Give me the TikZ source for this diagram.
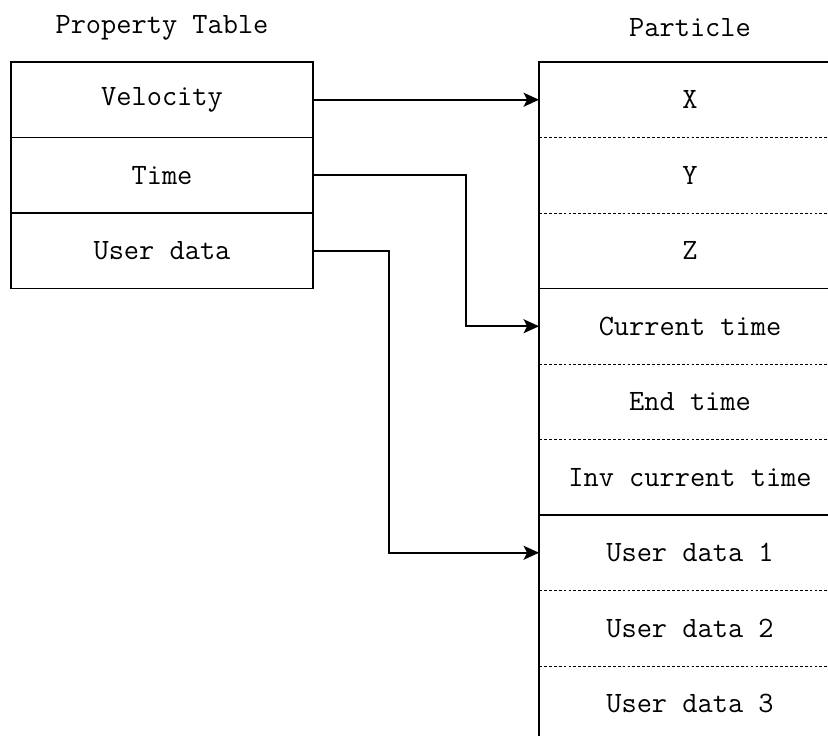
\documentclass[tikz,border=0pt]{standalone}
\usepackage{fontspec}
\usetikzlibrary{arrows.meta, positioning, calc}

\tikzset{
  cell/.style={minimum width=7.55cm, minimum height=1.8875cm, inner sep=0pt, outer sep=0pt},
  sep/.style={dash pattern=on 2pt off 1.5pt, line width=0.7pt},
  link/.style={-{Stealth[length=11pt, width=10pt, inset=2.5pt]}}
}

\begin{document}
\begin{tikzpicture}[font=\ttfamily\fontsize{21}{24}\selectfont, line width=1.1pt]
  \useasboundingbox (0,0) rectangle (20.7,18.4);

  % Titel
  \node (ptitle) at (4.05,17.7) {Property Table};
  \node (atitle) at (17.25,17.7) {Particle};

  % Property Table
  \node[cell, draw] (vel) at (4.05,15.906) {Velocity};
  \node[cell, draw, below=0pt of vel] (time) {Time};
  \node[cell, draw, below=0pt of time] (udat) {User data};

  % Particle
  \node[cell] (px) at (17.25,15.906) {X};
  \node[cell, below=0pt of px] (py) {Y};
  \node[cell, below=0pt of py] (pz) {Z};
  \node[cell, below=0pt of pz] (cur) {Current time};
  \node[cell, below=0pt of cur] (endt) {End time};
  \node[cell, below=0pt of endt] (inv) {Inv current time};
  \node[cell, below=0pt of inv] (ud1) {User data 1};
  \node[cell, below=0pt of ud1] (ud2) {User data 2};
  \node[cell, below=0pt of ud2] (ud3) {User data 3};

  % Gruppen
  \draw (px.north west) rectangle (pz.south east);
  \draw (cur.north west) rectangle (inv.south east);
  \draw (ud1.north west) rectangle (ud3.south east);
  \foreach \c in {px, py, cur, endt, ud1, ud2}
    \draw[sep] (\c.south west) -- (\c.south east);

  % Verbindungen
  \draw[link] (vel.east) -- (px.west);
  \draw[link] (time.east) -- ++(3.825,0) |- (cur.west);
  \draw[link] (udat.east) -- ++(1.9,0) |- (ud1.west);
\end{tikzpicture}
\end{document}
